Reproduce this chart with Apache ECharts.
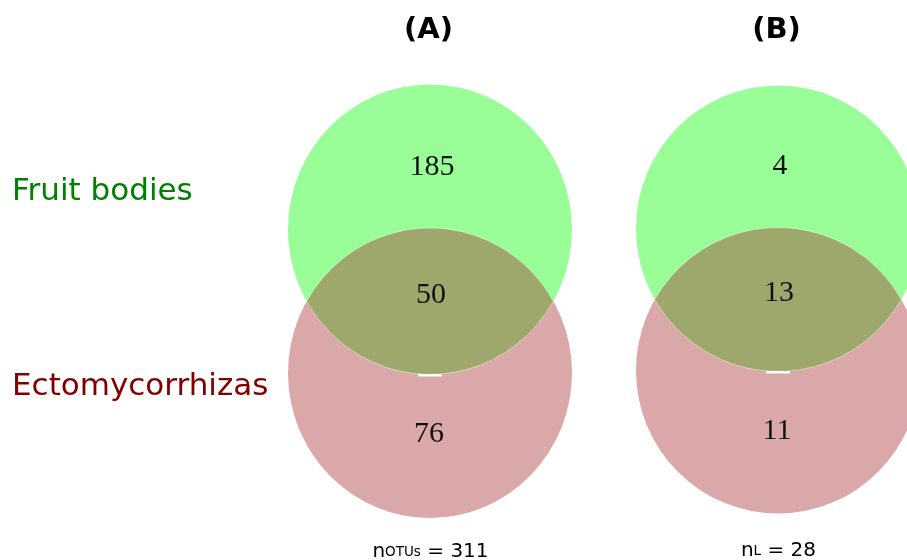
<!DOCTYPE html>
<html>
<head>
<meta charset="utf-8">
<script src="https://cdn.jsdelivr.net/npm/echarts@6/dist/echarts.min.js"></script>
<style>
  html, body { margin: 0; padding: 0; background: #fff; }
  #venn { width: 907px; height: 560px; }
</style>
</head>
<body>
<div id="venn"></div>
<script>
// data
const panels = ['(A)', '(B)']
const sets = ['Fruit bodies', 'Ectomycorrhizas']
const onlyFruit = [185, 4]
const shared = [50, 13]
const onlyEcto = [76, 11]
const totalSub = ['OTUs', 'L']
const totals = [311, 28]

// layout (axis units = pixels)
const panelX = [430, 778]
const greenY = [229.5, 228.5]
const pinkY = [373, 370.5]
const RX = 142
const RY = [145, 143]

const GREEN = '#99fd98'
const PINK = '#daa8a8'
const OLIVE = '#9fa86c'
const setColors = ['#008000', '#800000']

function ellipsePath(cx, cy, rx, ry) {
    return 'M' + (cx - rx) + ' ' + cy +
        ' A' + rx + ' ' + ry + ' 0 1 1 ' + (cx + rx) + ' ' + cy +
        ' A' + rx + ' ' + ry + ' 0 1 1 ' + (cx - rx) + ' ' + cy + ' Z'
}

function renderPanel(params, api) {
    const i = params.dataIndex
    const g = api.coord([panelX[i], greenY[i]])
    const p = api.coord([panelX[i], pinkY[i]])
    const rx = api.size([RX, 0])[0]
    const ry = api.size([0, RY[i]])[1]
    const midY = (g[1] + p[1]) / 2
    const halfD = (p[1] - g[1]) / 2
    const hx = rx * Math.sqrt(1 - (halfD / ry) * (halfD / ry))
    const lens = 'M' + (g[0] - hx) + ' ' + midY +
        ' A' + rx + ' ' + ry + ' 0 0 1 ' + (g[0] + hx) + ' ' + midY +
        ' A' + rx + ' ' + ry + ' 0 0 1 ' + (g[0] - hx) + ' ' + midY + ' Z'
    const num = (txt, x, y) => ({
        type: 'text',
        style: {
            text: String(txt), x: x, y: y,
            fill: '#111', font: '30px "Liberation Serif", serif',
            align: 'center', verticalAlign: 'middle'
        }
    })
    return {
        type: 'group',
        children: [
            { type: 'path', shape: { pathData: ellipsePath(p[0], p[1], rx, ry) }, style: { fill: PINK } },
            { type: 'path', shape: { pathData: ellipsePath(g[0], g[1], rx, ry) }, style: { fill: GREEN } },
            { type: 'path', shape: { pathData: lens }, style: { fill: OLIVE, stroke: 'rgba(255,255,255,0.5)', lineWidth: 0.8 } },
            { type: 'rect', shape: { x: g[0] - 12, y: g[1] + ry - 0.5, width: 24, height: 2.5 }, style: { fill: '#fff' } },
            num(onlyFruit[i], g[0] + 2, g[1] - 62),
            num(shared[i], g[0] + 1, midY - 6),
            num(onlyEcto[i], p[0] - 1, p[1] + 61),
            {
                type: 'text',
                style: {
                    text: panels[i], x: g[0] - 1.5, y: 30,
                    fill: '#000', font: 'bold 29px "DejaVu Sans", sans-serif',
                    align: 'center', verticalAlign: 'middle'
                }
            },
            {
                type: 'text',
                style: {
                    text: '{n|n}{s|' + totalSub[i] + '}{n| = ' + totals[i] + '}',
                    x: g[0] + 0.5, y: 562 - i,
                    align: 'center', verticalAlign: 'bottom',
                    rich: {
                        n: { fontFamily: 'DejaVu Sans', fontSize: 20, fill: '#000', lineHeight: 22, verticalAlign: 'bottom' },
                        s: { fontFamily: 'DejaVu Sans', fontSize: 13.5, fill: '#000', lineHeight: 16, verticalAlign: 'bottom', padding: [0, 0, 3, 0] }
                    }
                }
            }
        ]
    }
}

function renderSet(params, api) {
    const i = params.dataIndex
    const y = i === 0 ? greenY[0] - 38 : pinkY[0] + 14
    const pt = api.coord([12, y])
    return {
        type: 'text',
        style: {
            text: sets[i], x: pt[0], y: pt[1],
            fill: setColors[i], font: '31px "DejaVu Sans", sans-serif',
            align: 'left', verticalAlign: 'middle'
        }
    }
}

const chart = echarts.init(document.getElementById('venn'))
chart.setOption({
    animation: false,
    grid: { left: 0, right: 0, top: 0, bottom: 0 },
    xAxis: { type: 'value', min: 0, max: 907, show: false },
    yAxis: { type: 'value', min: 0, max: 560, inverse: true, show: false },
    series: [
        {
            type: 'custom',
            renderItem: renderPanel,
            clip: false,
            data: panels.map((name, i) => [panelX[i], greenY[i]])
        },
        {
            type: 'custom',
            renderItem: renderSet,
            clip: false,
            data: sets.map((name, i) => [12, i])
        }
    ]
})
</script>
</body>
</html>
